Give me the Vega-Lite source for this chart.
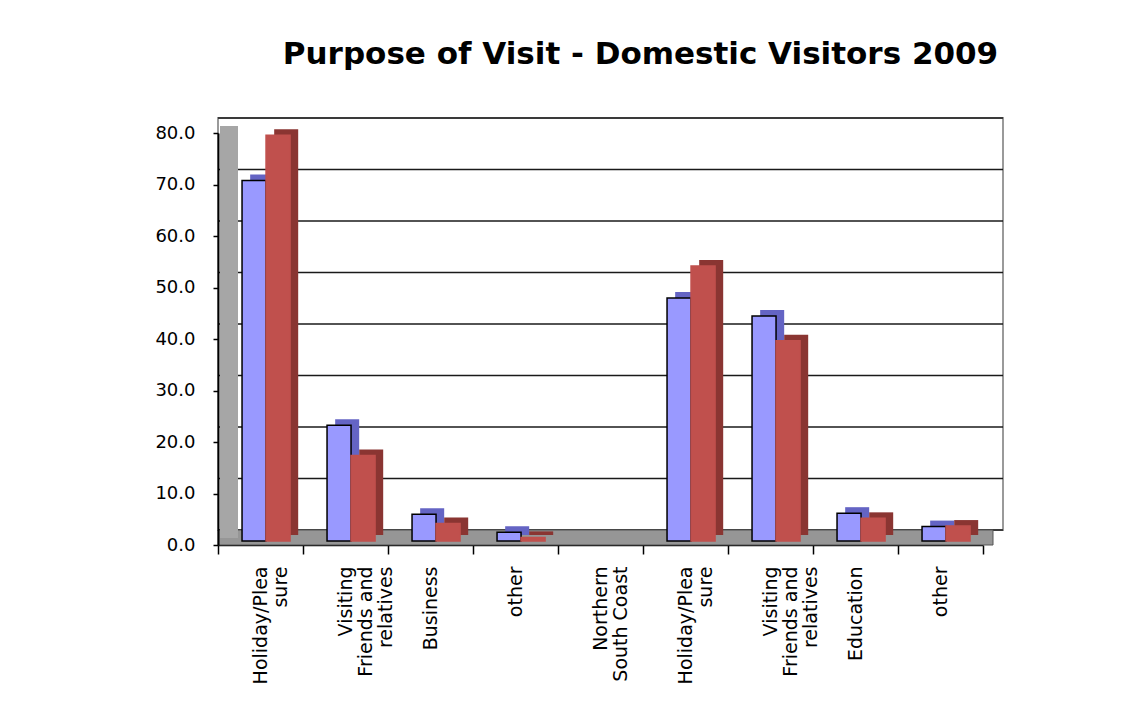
{
  "$schema": "https://vega.github.io/schema/vega-lite/v6.json",
  "width": 765,
  "height": 412,
  "autosize": {"type": "none"},
  "padding": {"left": 218, "top": 133, "right": 138, "bottom": 159},
  "background": "white",
  "config": {
    "font": "Liberation Sans",
    "view": {"stroke": null},
    "axisX": {"title": null, "zindex": 1, "labelExpr": "slice(split(datum.label, '|'), 1)", "labelAngle": -90, "labelFont": "DejaVu Sans", "labelFontSize": 19, "labelLineHeight": 20, "labelColor": "black", "labelPadding": 12, "tickBand": "extent", "tickSize": 9, "tickColor": "black", "tickWidth": 1.5, "domainColor": "black", "domainWidth": 1.5, "grid": false},
    "axisY": {"title": null, "zindex": 1, "domain": true, "values": [0, 10, 20, 30, 40, 50, 60, 70, 80], "format": ".1f", "grid": false, "labelFont": "DejaVu Sans", "labelFontSize": 18, "labelColor": "black", "labelPadding": 18, "tickSize": 5, "tickColor": "black", "tickWidth": 1.5, "domainColor": "black", "domainWidth": 2}
  },
  "title": {"text": "Purpose of Visit - Domestic Visitors 2009", "font": "DejaVu Sans", "fontSize": 31, "fontWeight": "bold", "color": "black", "anchor": "middle", "dx": 40, "offset": 46},
  "datasets": {
    "grid": [{"v": 0}, {"v": 10}, {"v": 20}, {"v": 30}, {"v": 40}, {"v": 50}, {"v": 60}, {"v": 70}, {"v": 80}],
    "visits": [
      {"cat": "1|Holiday/Plea|sure", "series": "Series1", "value": 70.0},
      {"cat": "1|Holiday/Plea|sure", "series": "Series2", "value": 78.8},
      {"cat": "2|Visiting|Friends and|relatives", "series": "Series1", "value": 22.5},
      {"cat": "2|Visiting|Friends and|relatives", "series": "Series2", "value": 16.6},
      {"cat": "3|Business", "series": "Series1", "value": 5.2},
      {"cat": "3|Business", "series": "Series2", "value": 3.4},
      {"cat": "4|other", "series": "Series1", "value": 1.7},
      {"cat": "4|other", "series": "Series2", "value": 0.7},
      {"cat": "6|Holiday/Plea|sure", "series": "Series1", "value": 47.2},
      {"cat": "6|Holiday/Plea|sure", "series": "Series2", "value": 53.4},
      {"cat": "7|Visiting|Friends and|relatives", "series": "Series1", "value": 43.7},
      {"cat": "7|Visiting|Friends and|relatives", "series": "Series2", "value": 38.9},
      {"cat": "8|Education", "series": "Series1", "value": 5.4},
      {"cat": "8|Education", "series": "Series2", "value": 4.4},
      {"cat": "9|other", "series": "Series1", "value": 2.8},
      {"cat": "9|other", "series": "Series2", "value": 2.9}
    ]
  },
  "resolve": {"scale": {"xOffset": "independent"}},
  "layer": [
    {
      "data": {"values": [{"wall": "back"}]},
      "mark": {"type": "rect", "fill": "white", "stroke": "#9a9a9a", "strokeWidth": 2, "xOffset": 20, "x2Offset": 20, "yOffset": -15, "y2Offset": -15},
      "encoding": {
        "y": {"datum": 0, "type": "quantitative", "scale": {"domain": [0, 80], "nice": false}, "axis": {"domain": true, "domainColor": "black", "domainWidth": 2, "zindex": 1}},
        "y2": {"datum": 80}
      }
    },
    {
      "data": {"name": "grid"},
      "mark": {"type": "rule", "color": "#1a1a1a", "strokeWidth": 1.5, "xOffset": 20, "x2Offset": 18, "yOffset": -15},
      "encoding": {
        "y": {"field": "v", "type": "quantitative"}
      }
    },
    {
      "data": {"values": [{"wall": "floor"}]},
      "mark": {"type": "rect", "fill": "#969696", "stroke": "#555555", "strokeWidth": 1, "xOffset": 10, "x2Offset": 10, "y2Offset": -15},
      "encoding": {
        "y": {"datum": 0, "type": "quantitative"},
        "y2": {"datum": 0}
      }
    },
    {
      "data": {"values": [{"wall": "left"}]},
      "mark": {"type": "rule", "color": "#a6a6a6", "strokeWidth": 18, "strokeCap": "butt", "xOffset": 11, "yOffset": -7, "y2Offset": -7},
      "encoding": {
        "x": {"datum": "1|Holiday/Plea|sure", "type": "nominal", "bandPosition": 0},
        "y": {"datum": 0, "type": "quantitative"},
        "y2": {"datum": 80}
      }
    },
    {
      "data": {"name": "visits"},
      "mark": {"type": "bar", "yOffset": -10, "y2Offset": -10},
      "encoding": {
        "x": {"field": "cat", "type": "nominal"},
        "xOffset": {"field": "series", "type": "nominal", "scale": {"paddingInner": 0, "paddingOuter": 0.77, "align": 0.87}},
        "y": {"field": "value", "type": "quantitative"},
        "color": {"condition": {"test": "datum.series === 'Series1'", "value": "#6464c4"}, "value": "#8a3532"}
      }
    },
    {
      "data": {"name": "visits"},
      "mark": {"type": "bar", "yOffset": -4, "y2Offset": -4, "strokeWidth": 1.5},
      "encoding": {
        "x": {
          "field": "cat", "type": "nominal",
          "scale": {"domain": ["1|Holiday/Plea|sure", "2|Visiting|Friends and|relatives", "3|Business", "4|other", "5|Northern|South Coast", "6|Holiday/Plea|sure", "7|Visiting|Friends and|relatives", "8|Education", "9|other"], "paddingInner": 0, "paddingOuter": 0}
        },
        "xOffset": {"field": "series", "type": "nominal", "scale": {"paddingInner": 0, "paddingOuter": 0.77, "align": 0.65}},
        "y": {"field": "value", "type": "quantitative"},
        "fill": {"condition": {"test": "datum.series === 'Series1'", "value": "#9999ff"}, "value": "#c0504d"},
        "stroke": {"condition": {"test": "datum.series === 'Series1'", "value": "#000000"}, "value": "#c0504d"}
      }
    }
  ]
}
